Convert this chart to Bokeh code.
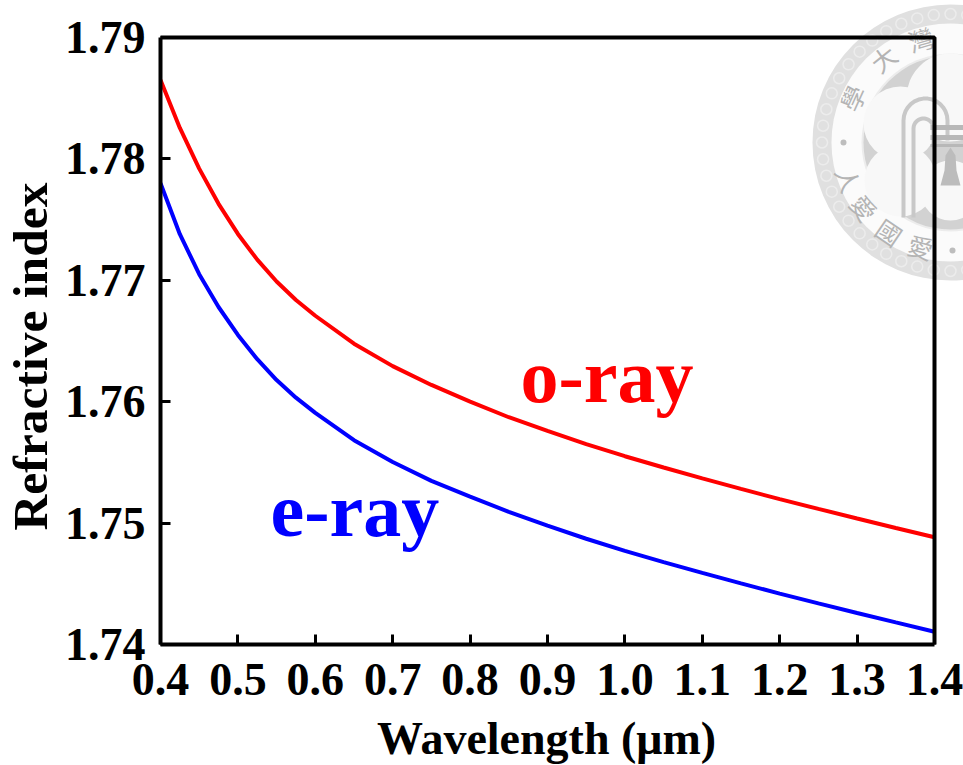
import math
from bokeh.plotting import figure
from bokeh.models import FixedTicker, Range1d
from bokeh.core.properties import value
from bokeh.embed import file_html
from bokeh.resources import INLINE

# ---- data
wavelength = [0.400, 0.425, 0.450, 0.475, 0.500, 0.525, 0.550, 0.575, 0.600, 0.650, 0.700, 0.750, 0.800,
              0.850, 0.900, 0.950, 1.000, 1.050, 1.100, 1.150, 1.200, 1.250, 1.300, 1.350, 1.400]
o_ray = [1.78650, 1.78255, 1.77920, 1.77630, 1.77382, 1.77170, 1.76990, 1.76838, 1.76708, 1.76478, 1.76293, 1.76138,
         1.76000, 1.75872, 1.75759, 1.75651, 1.75551, 1.75458, 1.75368, 1.75282, 1.75197, 1.75117, 1.75038, 1.74960, 1.74883]
e_ray = [1.77800, 1.77380, 1.77050, 1.76780, 1.76550, 1.76350, 1.76178, 1.76033, 1.75908, 1.75683, 1.75503, 1.75348,
         1.75218, 1.75093, 1.74979, 1.74871, 1.74771, 1.74679, 1.74590, 1.74504, 1.74419, 1.74339, 1.74260, 1.74182, 1.74105]
x_ticks = [0.4, 0.5, 0.6, 0.7, 0.8, 0.9, 1.0, 1.1, 1.2, 1.3, 1.4]
x_labels = ["0.4", "0.5", "0.6", "0.7", "0.8", "0.9", "1.0", "1.1", "1.2", "1.3", "1.4"]
y_ticks = [1.74, 1.75, 1.76, 1.77, 1.78, 1.79]
y_labels = ["1.74", "1.75", "1.76", "1.77", "1.78", "1.79"]
x_title = "Wavelength (μm)"
y_title = "Refractive index"

SERIF = "Liberation Serif"
p = figure(width=963, height=765, output_backend="svg", toolbar_location=None,
           x_range=Range1d(0.4, 1.4), y_range=Range1d(1.74, 1.79),
           min_border_left=160, min_border_right=29, min_border_top=37, min_border_bottom=121)
p.grid.visible = False
p.outline_line_color = None
p.background_fill_color = "white"

for ax, ticks, labels, size in ((p.xaxis[0], x_ticks, x_labels, "46px"), (p.yaxis[0], y_ticks, y_labels, "46px")):
    ax.ticker = FixedTicker(ticks=ticks)
    ax.major_label_overrides = dict(zip(ticks, labels))
    ax.major_label_text_font = SERIF
    ax.major_label_text_font_style = "bold"
    ax.major_label_text_font_size = size
    ax.major_label_text_color = "black"
    ax.major_tick_in = 10
    ax.major_tick_out = 0
    ax.major_tick_line_width = 3
    ax.major_tick_line_color = "black"
    ax.minor_tick_line_color = None
    ax.axis_line_width = 4
    ax.axis_line_color = "black"
p.xaxis[0].major_label_standoff = 19
p.yaxis[0].major_label_standoff = 15

def dx(px):
    return 0.4 + (px - 160) / 774
def dy(py):
    return 1.74 + (644 - py) / 12140

# ---- axis titles, placed as in the reference
p.text([dx(546)], [dy(738)], text=[x_title], text_font=value(SERIF), text_font_style="bold",
       text_font_size=value("46px"), text_color="black", text_align="center", text_baseline="middle", level="guide")
p.text([dx(30)], [dy(356)], text=[y_title], angle=[math.pi / 2], text_font=value(SERIF), text_font_style="bold",
       text_font_size=value("49.5px"), text_color="black", text_align="center", text_baseline="middle", level="guide")

# ---- pale university seal behind the top right corner
SEAL_X, SEAL_Y = 950, 142
INK = "#c8c8c8"
def seal_circle(px, py, r, color):
    p.circle([dx(px)], [dy(py)], radius=r, radius_units="screen", fill_color=color, line_color=None, level="guide")

seal_circle(SEAL_X, SEAL_Y, 138, "#e0e0e0")
seal_circle(SEAL_X, SEAL_Y, 119, "#fbfbfb")
seal_circle(SEAL_X, SEAL_Y, 89, "#ececec")
seal_circle(SEAL_X, SEAL_Y, 87, "#d2d2d2")
for cx, cy, r in [(950, 97, 44), (900, 123, 37), (900, 180, 36), (950, 190, 30)]:
    seal_circle(cx, cy, r, "#f8f8f8")
# spiral band
for k in range(48):
    a = math.radians(k * 7.5)
    p.circle([dx(SEAL_X + 128.5 * math.cos(a))], [dy(SEAL_Y + 128.5 * math.sin(a))], radius=5.5,
             radius_units="screen", fill_color=None, line_color="#ececec", line_width=1.5, level="guide")
# arches
for cx, r, top, leg in ((925, 22, 98, 217), (923, 10, 118, 217)):
    xs = [cx - r] + [cx - r * math.cos(math.radians(t)) for t in range(0, 181, 12)] + [cx + r]
    ys = [leg] + [top + r - r * math.sin(math.radians(t)) for t in range(0, 181, 12)] + [top + r + 20]
    p.line([dx(v) for v in xs], [dy(v) for v in ys], line_color=INK, line_width=4, level="guide")
# bell and ribbon
p.patch([dx(v) for v in (950, 945, 944, 940, 960, 956, 955)], [dy(v) for v in (147, 155, 170, 185, 185, 170, 155)],
        fill_color="#bcbcbc", line_color=None, level="guide")
for py, w in ((127, 5), (137, 5), (145, 3)):
    p.line([dx(930), dx(963)], [dy(py), dy(py)], line_color="#b8b8b8", line_width=w, level="guide")
# characters and dots round the ring
seal_chars = ["灣", "大", "學", "人", "愛", "國", "愛"]
seal_angles = [106, 128.6, 155.6, 200, 217, 235.7, 254]
for ch, deg in zip(seal_chars, seal_angles):
    a = math.radians(deg)
    rot = deg - 90 if deg < 180 else deg + 90
    p.text([dx(SEAL_X + 108 * math.cos(a))], [dy(SEAL_Y - 108 * math.sin(a))], text=[ch], angle=[math.radians(rot)],
           text_font=value("Noto Sans CJK TC"), text_font_size=value("25px"), text_color="#b4b4b4",
           text_align="center", text_baseline="middle", level="guide")
seal_circle(843, 142, 3, "#bdbdbd")
seal_circle(952, 250, 3, "#bdbdbd")

# ---- curves
p.line(wavelength, o_ray, line_color="#ff0000", line_width=4)
p.line(wavelength, e_ray, line_color="#0000ff", line_width=4)
p.text([dx(520)], [dy(375)], text=["o-ray"], text_font=value(SERIF), text_font_style="bold",
       text_font_size=value("76px"), text_color="#ff0000", text_baseline="alphabetic")
p.text([dx(270)], [dy(509)], text=["e-ray"], text_font=value(SERIF), text_font_style="bold",
       text_font_size=value("76px"), text_color="#0000ff", text_baseline="alphabetic")

# ---- frame above the seal
p.line([0.4, 1.4, 1.4], [1.79, 1.79, 1.74], line_color="black", line_width=4, level="overlay")

open("out.html", "w").write(file_html(p, INLINE))
